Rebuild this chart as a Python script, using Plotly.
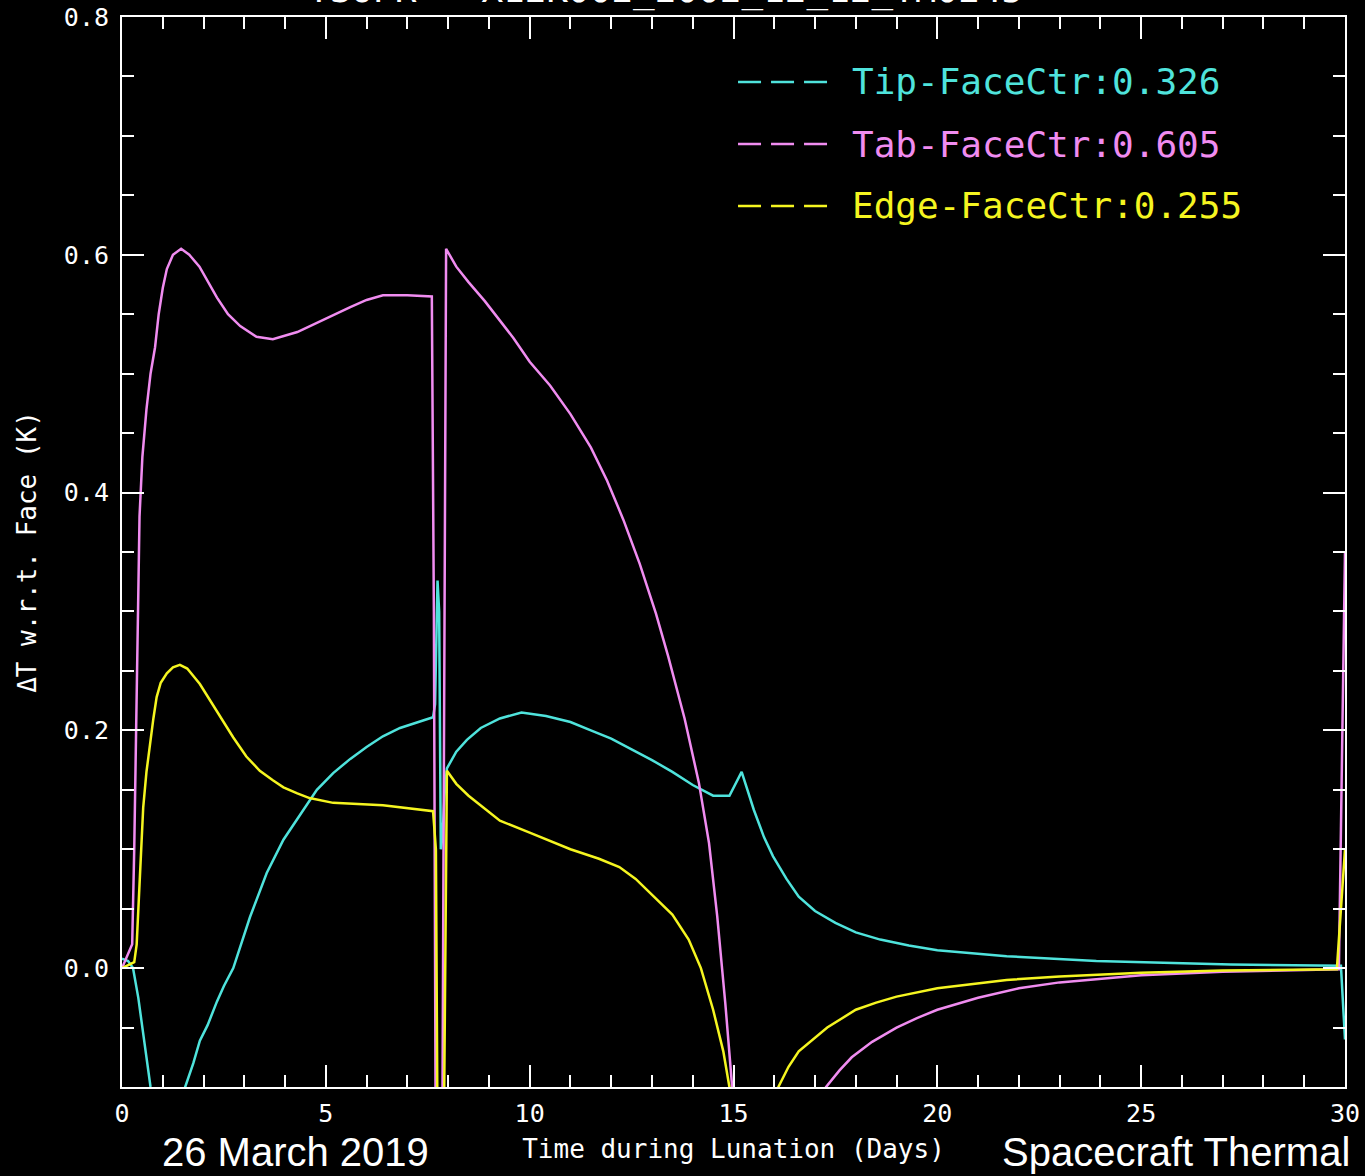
import plotly.graph_objects as go

# ---- data ----
tip_day = [0, 0.15, 0.27, 0.4, 0.5, 0.6, 0.7, 0.9, 1.2, 1.55, 1.75, 1.91, 2.1, 2.33, 2.5,
           2.73, 3.14, 3.55, 3.96, 4.37, 4.78, 5.18, 5.6, 6.0, 6.4, 6.82, 7.3, 7.63, 7.68,
           7.74, 7.78, 7.82, 7.86, 7.92, 7.97, 8.2, 8.46, 8.8, 9.27, 9.8, 10.4, 11.0, 11.5,
           12.0, 12.5, 13.0, 13.5, 14.0, 14.5, 14.9, 15.2, 15.5, 15.75, 15.97, 16.3, 16.6,
           17.0, 17.5, 18.0, 18.6, 19.3, 20.0, 21.7, 23.9, 27.2, 29.9, 30.0]
tip_val = [0.008, 0.006, 0.0, -0.025, -0.05, -0.075, -0.1, -0.13, -0.14, -0.1, -0.08, -0.061,
           -0.048, -0.028, -0.015, 0.0, 0.043, 0.08, 0.108, 0.129, 0.15, 0.164, 0.176, 0.186,
           0.195, 0.202, 0.207, 0.211, 0.222, 0.326, 0.3, 0.1, 0.11, 0.15, 0.168, 0.182,
           0.192, 0.202, 0.21, 0.215, 0.212, 0.207, 0.2, 0.193, 0.184, 0.175, 0.165, 0.154,
           0.145, 0.145, 0.165, 0.133, 0.11, 0.094, 0.075, 0.06, 0.048, 0.038, 0.03, 0.024,
           0.019, 0.015, 0.01, 0.006, 0.003, 0.002, -0.06]

tab_day = [0, 0.25, 0.3, 0.34, 0.38, 0.43, 0.5, 0.6, 0.7, 0.81, 0.9, 1.0, 1.1, 1.25, 1.45,
           1.65, 1.9, 2.1, 2.33, 2.6, 2.9, 3.3, 3.7, 4.3, 4.8, 5.2, 5.6, 6.0, 6.4, 7.0, 7.6,
           7.65, 7.7, 7.85, 7.92, 7.95, 8.2, 8.5, 8.9, 9.27, 9.6, 10.0, 10.5, 11.0, 11.5,
           11.9, 12.3, 12.7, 13.1, 13.4, 13.8, 14.15, 14.4, 14.6, 14.8, 14.96, 15.1, 17.0,
           17.27, 17.6, 17.9, 18.4, 19.0, 19.5, 20.0, 21.0, 22.0, 23.0, 24.0, 25.0, 27.0,
           29.85, 30.0]
tab_val = [0.0, 0.02, 0.1, 0.2, 0.3, 0.38, 0.43, 0.47, 0.5, 0.522, 0.55, 0.572, 0.588, 0.6,
           0.605, 0.6, 0.59, 0.578, 0.564, 0.55, 0.54, 0.531, 0.529, 0.535, 0.543, 0.55,
           0.556, 0.562, 0.566, 0.566, 0.565, 0.3, -0.2, -0.2, 0.3, 0.605, 0.59, 0.577,
           0.561, 0.545, 0.53, 0.51, 0.49, 0.466, 0.438, 0.41, 0.377, 0.34, 0.298, 0.262,
           0.21, 0.156, 0.105, 0.044, -0.03, -0.097, -0.2, -0.2, -0.1, -0.086, -0.075,
           -0.062, -0.05, -0.042, -0.035, -0.025, -0.017, -0.012, -0.009, -0.006, -0.003,
           -0.001, 0.35]

edge_day = [0, 0.3, 0.36, 0.44, 0.52, 0.6, 0.69, 0.77, 0.85, 0.95, 1.1, 1.25, 1.42, 1.6,
            1.91, 2.3, 2.73, 3.05, 3.38, 3.7, 3.96, 4.3, 4.6, 5.18, 6.4, 7.63, 7.7, 7.75,
            7.88, 7.97, 8.2, 8.5, 8.9, 9.27, 10.0, 11.0, 11.7, 12.2, 12.6, 12.9, 13.2, 13.5,
            13.9, 14.2, 14.5, 14.75, 14.9, 15.1, 16.0, 16.1, 16.35, 16.6, 17.3, 18.0, 18.5,
            19.0, 20.0, 21.7, 23.0, 25.0, 27.0, 29.8, 30.0]
edge_val = [0.0, 0.005, 0.02, 0.08, 0.135, 0.165, 0.19, 0.21, 0.228, 0.24, 0.248, 0.253,
            0.255, 0.252, 0.239, 0.218, 0.194, 0.178, 0.166, 0.158, 0.152, 0.147, 0.143,
            0.139, 0.137, 0.132, 0.1, -0.2, -0.2, 0.166, 0.155, 0.145, 0.134, 0.124, 0.114,
            0.1, 0.092, 0.085, 0.075, 0.065, 0.055, 0.045, 0.024, 0.0, -0.035, -0.07, -0.1,
            -0.2, -0.2, -0.1, -0.083, -0.07, -0.05, -0.035, -0.029, -0.024, -0.017, -0.01,
            -0.007, -0.004, -0.002, -0.001, 0.1]

series_names = ["Tip-FaceCtr:0.326", "Tab-FaceCtr:0.605", "Edge-FaceCtr:0.255"]
series_colors = ["#4fe3dc", "#f08cf0", "#f5f520"]

x_ticks = [0, 5, 10, 15, 20, 25, 30]
y_ticks = [0.0, 0.2, 0.4, 0.6, 0.8]
y_tick_labels = ["0.0", "0.2", "0.4", "0.6", "0.8"]

FONT = "DejaVu Sans Mono"

fig = go.Figure()
for d, v, name, col in zip([tip_day, tab_day, edge_day], [tip_val, tab_val, edge_val],
                           series_names, series_colors):
    fig.add_trace(go.Scatter(x=d, y=v, mode="lines", name=name,
                             line=dict(color=col, width=2.5), showlegend=False))

axis_common = dict(showgrid=False, zeroline=False, showline=True, linecolor="white",
                   linewidth=2, mirror="ticks", ticks="inside", tickcolor="white",
                   tickwidth=2, ticklen=22, automargin=False,
                   tickfont=dict(family=FONT, size=25, color="white"))

fig.update_xaxes(range=[0, 30], tickvals=x_ticks, ticktext=[str(t) for t in x_ticks],
                 minor=dict(ticks="inside", ticklen=12, dtick=1, tickcolor="white", tickwidth=2),
                 ticklabelstandoff=3,
                 title=dict(text="Time during Lunation (Days)", standoff=13,
                            font=dict(family=FONT, size=26, color="white")),
                 **axis_common)
fig.update_yaxes(range=[-0.1, 0.8], tickvals=y_ticks, ticktext=y_tick_labels,
                 minor=dict(ticks="inside", ticklen=12, dtick=0.05, tickcolor="white", tickwidth=2),
                 ticklabelstandoff=6,
                 title=dict(text="ΔT w.r.t. Face (K)", standoff=20,
                            font=dict(family=FONT, size=26, color="white")),
                 **axis_common)

# legend drawn as dashed samples + coloured text
row_y = [0.9393, 0.8813, 0.8234]
for yy, name, col in zip(row_y, series_names, series_colors):
    fig.add_shape(type="line", xref="paper", yref="paper", x0=0.5037, x1=0.5789, y0=yy, y1=yy,
                  line=dict(color=col, width=2.5, dash="23px,10px"))
    fig.add_annotation(xref="paper", yref="paper", x=0.5952, y=yy, xanchor="left",
                       yanchor="middle", text=name, showarrow=False,
                       font=dict(family=FONT, size=36, color=col))

# cut-off title at the top (only its lower edge is visible in the reference)
fig.add_annotation(xref="paper", yref="paper", x=0.444, y=1.0035, xanchor="center",
                   yanchor="bottom", text="TSOPR - X12K002_2002_12_12_TM0245",
                   showarrow=False, font=dict(family=FONT, size=36, color="white"))

# slide footer texts
fig.add_annotation(xref="paper", yref="paper", x=0.031, y=-0.0832, xanchor="left",
                   yanchor="bottom", text="26 March 2019", showarrow=False,
                   font=dict(family="Liberation Sans, Arial", size=40, color="white"))
fig.add_annotation(xref="paper", yref="paper", x=1.006, y=-0.0832, xanchor="right",
                   yanchor="bottom", text="Spacecraft Thermal", showarrow=False,
                   font=dict(family="Liberation Sans, Arial", size=40, color="white"))

fig.update_layout(width=1365, height=1176, paper_bgcolor="black", plot_bgcolor="black",
                  margin=dict(l=122, r=20, t=17, b=89, autoexpand=False), showlegend=False)

fig.write_html("out.html")
